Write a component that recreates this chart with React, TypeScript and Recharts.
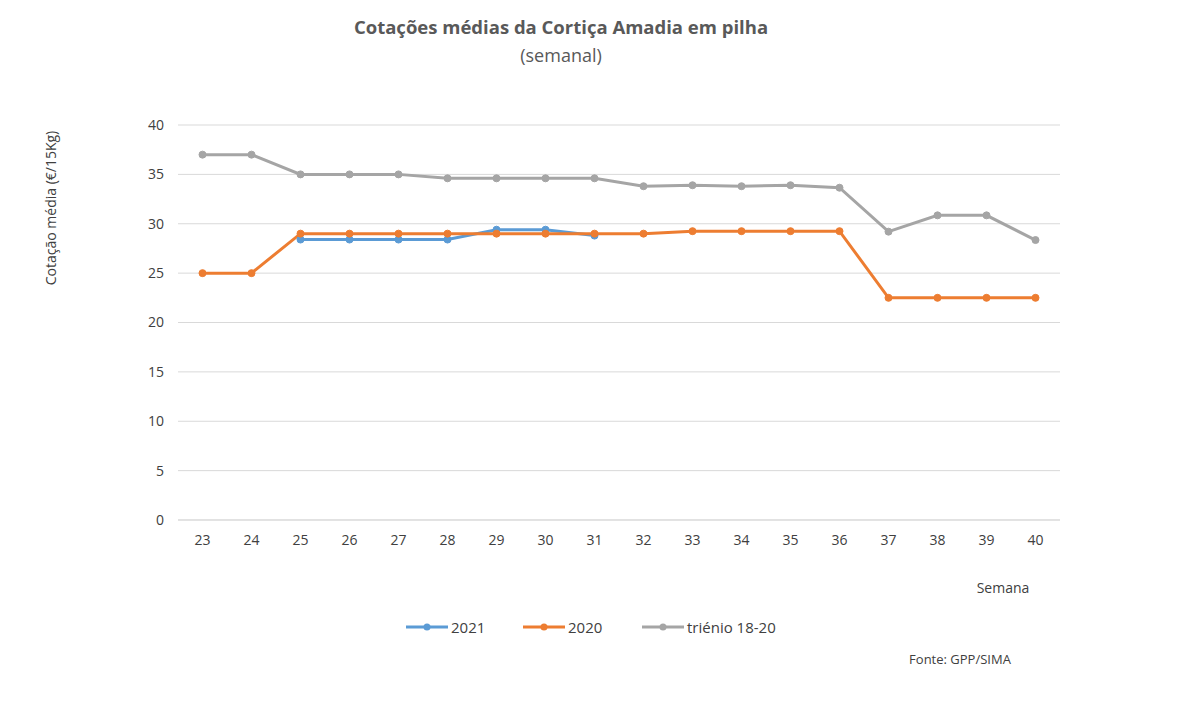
import { CartesianGrid, Line, LineChart, XAxis, YAxis } from "recharts";

const weeks = ["23", "24", "25", "26", "27", "28", "29", "30", "31", "32", "33", "34", "35", "36", "37", "38", "39", "40"];
const values2021 = [null, null, 28.4, 28.4, 28.4, 28.4, 29.4, 29.4, 28.8, null, null, null, null, null, null, null, null, null];
const values2020 = [25, 25, 29, 29, 29, 29, 29, 29, 29, 29, 29.25, 29.25, 29.25, 29.25, 22.5, 22.5, 22.5, 22.5];
const valuesTrienio = [37, 37, 35, 35, 35, 34.6, 34.6, 34.6, 34.6, 33.8, 33.9, 33.8, 33.9, 33.65, 29.2, 30.85, 30.85, 28.35];
const yTicks = [0, 5, 10, 15, 20, 25, 30, 35, 40];

const seriesList = [
  { key: "v2021", name: "2021", color: "#5b9bd5" },
  { key: "v2020", name: "2020", color: "#ed7d31" },
  { key: "trienio", name: "triénio 18-20", color: "#a5a5a5" },
];

const font = "'Open Sans', 'Noto Sans', sans-serif";

const chartData = weeks.map((w, i) => ({
  week: w,
  v2021: values2021[i],
  v2020: values2020[i],
  trienio: valuesTrienio[i],
}));

// legend drawn by hand, outside the chart so it doesn't eat plot space
function LegendRow() {
  const offsets = [0, 117, 236];
  return (
    <div style={{ position: "absolute", left: 406, top: 617, height: 20, width: 420, fontFamily: font, fontSize: 15, color: "#404040" }}>
      {seriesList.map((s, i) => (
        <div key={s.key} style={{ position: "absolute", left: offsets[i], top: 0, display: "flex", alignItems: "center" }}>
          <svg width={44} height={20}>
            <line x1={0} y1={10} x2={42} y2={10} stroke={s.color} strokeWidth={3} />
            <circle cx={21} cy={10} r={3.5} fill={s.color} />
          </svg>
          <span style={{ marginLeft: 1 }}>{s.name}</span>
        </div>
      ))}
    </div>
  );
}

export default function App() {
  return (
    <div style={{ position: "absolute", left: 0, top: 0, width: 1202, height: 710, background: "#fff" }}>
      <LineChart
        width={1202}
        height={710}
        data={chartData}
        margin={{ top: 125, right: 142, bottom: 150, left: 118 }}
      >
        <CartesianGrid vertical={false} stroke="#d9d9d9" strokeWidth={1} />
        <XAxis
          dataKey="week"
          height={40}
          padding={{ left: 24.5, right: 24.5 }}
          axisLine={{ stroke: "#d9d9d9" }}
          tickLine={false}
          tickMargin={9}
          tick={{ fill: "#404040", fontSize: 14, fontFamily: font }}
          interval={0}
        />
        <YAxis
          width={60}
          domain={[0, 40]}
          ticks={yTicks}
          axisLine={false}
          tickLine={false}
          tickMargin={8}
          tick={{ fill: "#404040", fontSize: 14, fontFamily: font }}
        />
        {seriesList.map((s) => (
          <Line
            key={s.key}
            dataKey={s.key}
            name={s.name}
            stroke={s.color}
            strokeWidth={3}
            dot={{ r: 3.5, fill: s.color, stroke: s.color, strokeWidth: 1 }}
            isAnimationActive={false}
          />
        ))}
        <text x={561} y={34} textAnchor="middle" fontFamily={font} fontSize={18.5} fontWeight="bold" fill="#595959">
          Cotações médias da Cortiça Amadia em pilha
        </text>
        <text x={561} y={62} textAnchor="middle" fontFamily={font} fontSize={18} fill="#595959">
          (semanal)
        </text>
        <text
          x={56}
          y={208}
          textAnchor="middle"
          fontFamily={font}
          fontSize={14}
          fill="#404040"
          transform="rotate(-90 56 208)"
        >
          Cotação média (€/15Kg)
        </text>
        <text x={1003} y={593} textAnchor="middle" fontFamily={font} fontSize={14} fill="#404040">
          Semana
        </text>
        <text x={960} y={664} textAnchor="middle" fontFamily={font} fontSize={13} fill="#404040">
          Fonte: GPP/SIMA
        </text>
      </LineChart>
      <LegendRow />
    </div>
  );
}
